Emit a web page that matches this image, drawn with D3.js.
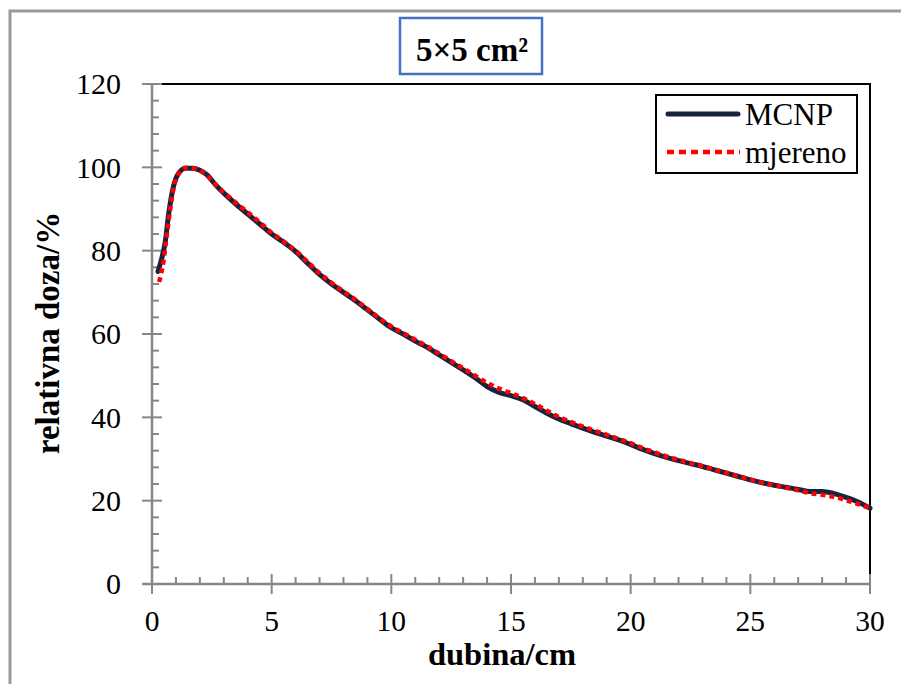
<!DOCTYPE html>
<html><head><meta charset="utf-8">
<script src="https://cdn.jsdelivr.net/npm/d3@7"></script>
<style>body{margin:0;background:#fff}svg{display:block}text{font-family:"Liberation Serif","Times New Roman",serif}</style>
</head><body>
<script>
const titleText = "5×5 cm²";
const xLabel = "dubina/cm";
const yLabel = "relativna doza/%";
const seriesNames = ["MCNP", "mjereno"];
const xTicks = [0, 5, 10, 15, 20, 25, 30];
const yTicks = [0, 20, 40, 60, 80, 100, 120];

const depthMCNP = [0.25,0.4,0.55,0.7,0.9,1.1,1.4,1.7,2.0,2.3,2.7,3.0,3.5,4.0,4.5,5.0,5.5,6.0,6.5,7.0,7.5,8.0,8.5,9.0,9.5,10.0,10.5,11.0,11.5,12.0,12.5,13.0,13.5,14.0,14.5,15.0,15.5,16.0,16.5,17.0,17.5,18.0,18.5,19.0,19.5,20.0,20.5,21.0,21.5,22.0,22.5,23.0,23.5,24.0,24.5,25.0,25.5,26.0,26.5,27.0,27.5,28.0,28.5,29.0,29.5,30.0];
const doseMCNP = [75,78,82,89,95.5,98.5,99.8,99.8,99.3,98.2,95.5,93.8,91.2,88.8,86.4,84,82,79.8,77,74.3,72,70,68,65.8,63.6,61.5,60,58.3,56.8,55,53.2,51.4,49.5,47.4,46,45.2,44.2,42.6,41,39.6,38.5,37.4,36.4,35.5,34.6,33.5,32.3,31.3,30.4,29.6,28.9,28.2,27.4,26.6,25.8,25.0,24.3,23.7,23.2,22.7,22.2,22.2,21.7,20.8,19.7,18.2];

const depthMeas = [0.3,0.38,0.48,0.6,0.75,0.9,1.1,1.4,1.7,2.0,2.3,2.7,3.0,3.5,4.0,4.5,5.0,5.5,6.0,6.5,7.0,7.5,8.0,8.5,9.0,9.5,10.0,10.5,11.0,11.5,12.0,12.5,13.0,13.5,14.0,14.5,15.0,15.5,16.0,16.5,17.0,17.5,18.0,18.5,19.0,19.5,20.0,20.5,21.0,21.5,22.0,22.5,23.0,23.5,24.0,24.5,25.0,25.5,26.0,26.5,27.0,27.5,28.0,28.5,29.0,29.5,30.0];
const doseMeas = [72.5,74.5,77.5,83,89.5,95,98.3,99.9,99.8,99.2,98,95.6,94,91.5,89.2,86.8,84.3,82.2,80,77.3,74.6,72.3,70.2,68.2,66,63.8,61.8,60.2,58.6,57,55.3,53.5,51.8,50,48.3,46.9,45.8,44.6,43.2,41.6,40.1,38.9,37.8,36.8,35.8,34.8,33.8,32.6,31.6,30.6,29.8,29,28.3,27.5,26.7,25.9,25.1,24.3,23.7,23.1,22.5,21.8,21.4,20.9,20.1,19.2,18.2];

const W = 901, H = 684;
const svg = d3.select("body").append("svg").attr("width", W).attr("height", H);

// outer frame
svg.append("rect").attr("x", 10).attr("y", 11).attr("width", 1000).attr("height", 1000)
  .attr("fill", "#fff").attr("stroke", "#9a9a9a").attr("stroke-width", 3);

const x = d3.scaleLinear().domain([0, 30]).range([152, 870]);
const y = d3.scaleLinear().domain([0, 120]).range([584, 84]);

// plot frame (top & right black)
svg.append("path").attr("d", `M${x(0)},${y(120)}H${x(30)}V${y(0)}`)
  .attr("fill", "none").attr("stroke", "#000").attr("stroke-width", 2);

const axisColor = "#878787";
// Y axis minor ticks
const yMinor = d3.range(0, 121, 4).filter(v => v % 20 !== 0);
const gY = svg.append("g");
gY.selectAll("line.minor").data(yMinor).join("line")
  .attr("x1", x(0)).attr("x2", x(0) + 7).attr("y1", d => y(d)).attr("y2", d => y(d))
  .attr("stroke", axisColor).attr("stroke-width", 2);
gY.selectAll("line.major").data(yTicks).join("line")
  .attr("x1", x(0) - 10).attr("x2", x(0) + 10).attr("y1", d => y(d)).attr("y2", d => y(d))
  .attr("stroke", axisColor).attr("stroke-width", 2);
gY.append("line").attr("x1", x(0)).attr("x2", x(0)).attr("y1", y(120)).attr("y2", y(0))
  .attr("stroke", axisColor).attr("stroke-width", 2.5);
gY.selectAll("text").data(yTicks).join("text")
  .attr("x", 121).attr("y", d => y(d)).attr("dy", "0.34em").attr("text-anchor", "end")
  .attr("font-size", 30).text(d => d);

// X axis
const xMinor = d3.range(0, 31, 1).filter(v => v % 5 !== 0);
const gX = svg.append("g");
gX.selectAll("line.minor").data(xMinor).join("line")
  .attr("x1", d => x(d)).attr("x2", d => x(d)).attr("y1", y(0)).attr("y2", y(0) - 7)
  .attr("stroke", axisColor).attr("stroke-width", 2);
gX.selectAll("line.major").data(xTicks).join("line")
  .attr("x1", d => x(d)).attr("x2", d => x(d)).attr("y1", y(0) - 10).attr("y2", y(0) + 10)
  .attr("stroke", axisColor).attr("stroke-width", 2);
gX.append("line").attr("x1", x(0) - 10).attr("x2", x(30)).attr("y1", y(0)).attr("y2", y(0))
  .attr("stroke", axisColor).attr("stroke-width", 2.5);
gX.selectAll("text").data(xTicks).join("text")
  .attr("x", d => x(d)).attr("y", 631).attr("text-anchor", "middle")
  .attr("font-size", 29.5).text(d => d);

// axis titles
svg.append("text").attr("x", 502).attr("y", 665).attr("text-anchor", "middle")
  .attr("font-size", 32.5).attr("font-weight", "bold").text(xLabel);
svg.append("text").attr("transform", "translate(59,333) rotate(-90)").attr("text-anchor", "middle")
  .attr("font-size", 33).attr("font-weight", "bold").text(yLabel);

// lines
const line = d3.line().x(d => x(d[0])).y(d => y(d[1])).curve(d3.curveMonotoneX);
const mcnp = depthMCNP.map((d, i) => [d, doseMCNP[i]]);
const meas = depthMeas.map((d, i) => [d, doseMeas[i]]);
svg.append("path").datum(mcnp).attr("d", line).attr("fill", "none")
  .attr("stroke", "#16243f").attr("stroke-width", 5).attr("stroke-linejoin", "round").attr("stroke-linecap", "round");
svg.append("path").datum(meas).attr("d", line).attr("fill", "none")
  .attr("stroke", "#ff0000").attr("stroke-width", 4.5).attr("stroke-dasharray", "5,4");

// title box
svg.append("rect").attr("x", 400).attr("y", 18).attr("width", 142).attr("height", 56)
  .attr("fill", "#fff").attr("stroke", "#4472c4").attr("stroke-width", 2.5);
svg.append("text").attr("x", 472).attr("y", 61).attr("text-anchor", "middle")
  .attr("font-size", 33).attr("font-weight", "bold").text(titleText);

// legend
const lg = svg.append("g");
lg.append("rect").attr("x", 656).attr("y", 95).attr("width", 201).attr("height", 78)
  .attr("fill", "#fff").attr("stroke", "#000").attr("stroke-width", 2);
const legY = [114, 152];
lg.append("line").attr("x1", 668).attr("x2", 738).attr("y1", legY[0]).attr("y2", legY[0])
  .attr("stroke", "#16243f").attr("stroke-width", 5).attr("stroke-linecap", "round");
lg.append("line").attr("x1", 667).attr("x2", 740).attr("y1", legY[1]).attr("y2", legY[1])
  .attr("stroke", "#ff0000").attr("stroke-width", 4.5).attr("stroke-dasharray", "7,5");
lg.selectAll("text").data(seriesNames).join("text")
  .attr("x", 745).attr("y", (d, i) => legY[i]).attr("dy", "0.34em")
  .attr("font-size", 31).text(d => d);
</script>
</body></html>
